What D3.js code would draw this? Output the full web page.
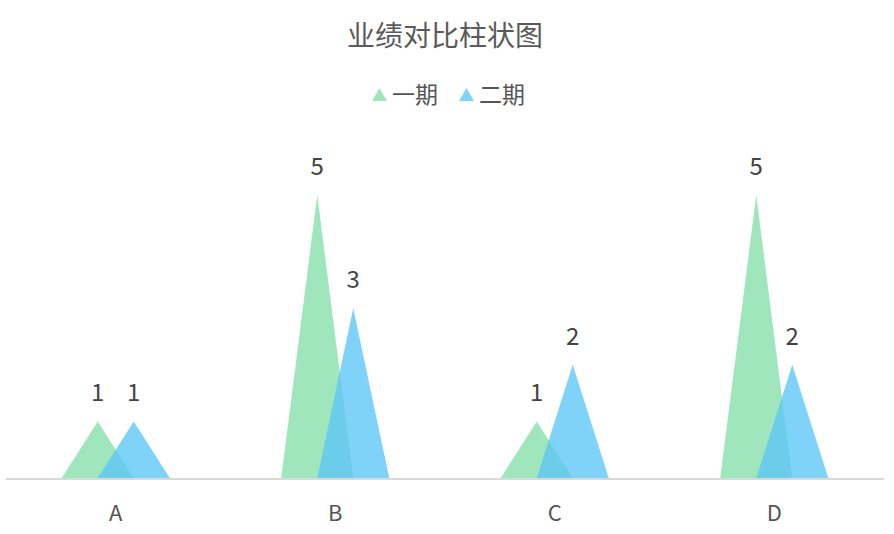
<!DOCTYPE html>
<html>
<head>
<meta charset="utf-8">
<script src="https://cdn.jsdelivr.net/npm/d3@7"></script>
<style>
  body { margin: 0; background: #fff; }
  svg { display: block; font-family: "Noto Sans CJK SC", "Noto Sans", sans-serif; }
</style>
</head>
<body>
<div id="main"></div>
<script>
var categories = ["A", "B", "C", "D"];
var seriesNames = ["一期", "二期"];
var phase1 = [1, 5, 1, 5];
var phase2 = [1, 3, 2, 2];
var colors = ["#88e0ac", "#5fc7f6"];

var width = 894, height = 534;
var svg = d3.select("#main").append("svg")
    .attr("width", width)
    .attr("height", height);

// scales
var x = d3.scaleBand().domain(categories).range([6, 884]);
var y = d3.scaleLinear().domain([0, 6]).range([478, 138.4]);
var barW = 36;

// title
svg.append("text")
    .attr("x", 445).attr("y", 46)
    .attr("text-anchor", "middle")
    .attr("font-size", 28)
    .attr("fill", "#5a5a5a")
    .text("业绩对比柱状图");

// legend
var legendX = [372, 459];
var legend = svg.selectAll(".legend")
    .data(seriesNames)
    .enter().append("g")
    .attr("class", "legend")
    .attr("transform", function (d, i) { return "translate(" + legendX[i] + ",0)"; });
legend.append("path")
    .attr("d", "M7.5,88 L15,101 L0,101 Z")
    .attr("fill", function (d, i) { return colors[i]; })
    .attr("fill-opacity", 0.8);
legend.append("text")
    .attr("x", 20).attr("y", 103)
    .attr("font-size", 23)
    .attr("fill", "#555")
    .text(function (d) { return d; });

// axis line
svg.append("line")
    .attr("x1", 6).attr("x2", 884)
    .attr("y1", 479).attr("y2", 479)
    .attr("stroke", "#d9d9d9")
    .attr("stroke-width", 2);

// axis labels
svg.selectAll(".xlabel")
    .data(categories)
    .enter().append("text")
    .attr("class", "xlabel")
    .attr("x", function (d) { return x(d) + x.bandwidth() / 2; })
    .attr("y", 521)
    .attr("text-anchor", "middle")
    .attr("font-size", 22)
    .attr("fill", "#555")
    .text(function (d) { return d; });

function triangle(cx, v) {
    var top = y(v), base = y(0);
    return "M" + (cx - barW) + "," + base + " L" + cx + "," + top + " L" + (cx + barW) + "," + base + " Z";
}

var allSeries = [phase1, phase2];
var offsets = [-18, 18];
allSeries.forEach(function (vals, s) {
    var g = svg.append("g");
    g.selectAll("path")
        .data(vals)
        .enter().append("path")
        .attr("d", function (d, i) {
            return triangle(x(categories[i]) + x.bandwidth() / 2 + offsets[s], d);
        })
        .attr("fill", colors[s])
        .attr("fill-opacity", 0.8);
    g.selectAll("text")
        .data(vals)
        .enter().append("text")
        .attr("x", function (d, i) { return x(categories[i]) + x.bandwidth() / 2 + offsets[s]; })
        .attr("y", function (d) { return y(d) - 20; })
        .attr("text-anchor", "middle")
        .attr("font-size", 24)
        .attr("fill", "#444")
        .text(function (d) { return d; });
});
</script>
</body>
</html>
